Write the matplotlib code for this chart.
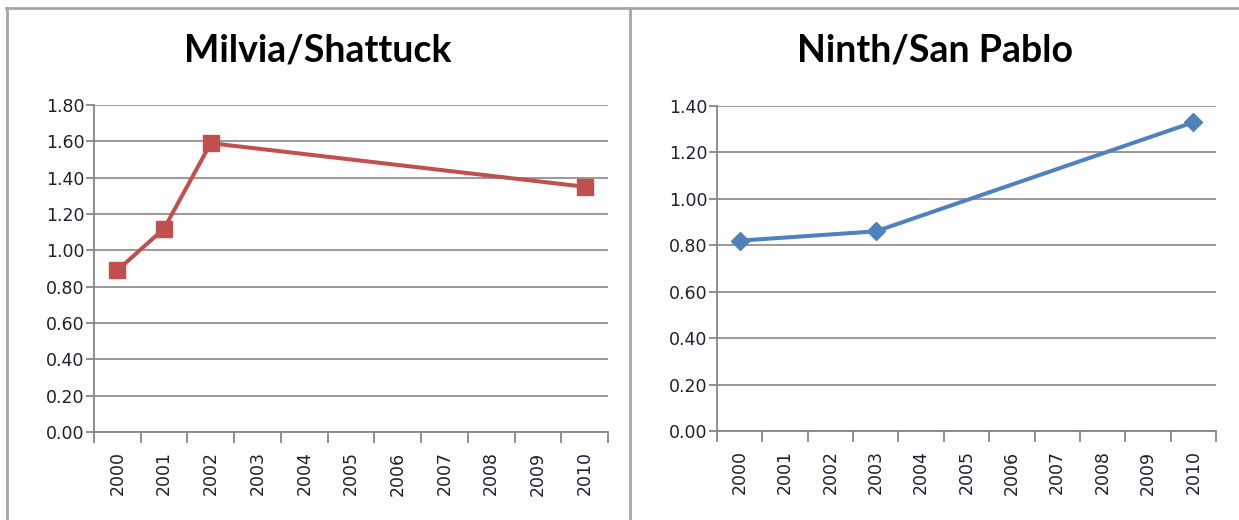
import matplotlib
matplotlib.use('Agg')

import numpy as np
import matplotlib.pyplot as plt
from matplotlib.lines import Line2D

# Datos de las dos estaciones
anios = list(range(2000, 2011))
etiquetas = [str(a) for a in anios]

milvia_anios = [2000, 2001, 2002, 2010]
milvia_valores = [0.89, 1.12, 1.59, 1.35]

ninth_anios = [2000, 2003, 2010]
ninth_valores = [0.82, 0.86, 1.33]

ROJO = '#C0504D'
AZUL = '#4F81BD'
GRIS = '#878787'
TEXTO = '#1f1f2f'

fig = plt.figure(figsize=(12.39, 5.2), dpi=100)
fig.patch.set_facecolor('white')


def dibujar(ax, x, y, color, marcador, msize, ymax, titulo, xc):
    ax.plot(x, y, color=color, lw=2.9, marker=marcador, markersize=msize,
            markeredgecolor=color, markerfacecolor=color, solid_joinstyle='round',
            zorder=3)
    ax.set_xlim(anios[0] - 0.5, anios[-1] + 0.5)
    ax.set_ylim(0, ymax)
    ax.set_yticks(np.arange(0, ymax + 0.001, 0.2))
    ax.set_yticklabels([f"{v:.2f}" for v in np.arange(0, ymax + 0.001, 0.2)])
    ax.set_xticks(anios)
    ax.set_xticklabels(etiquetas, rotation=90)
    ax.set_xticks(np.arange(anios[0] - 0.5, anios[-1] + 1), minor=True)
    ax.tick_params(axis='x', which='major', length=0, pad=14, labelsize=12.5,
                   labelcolor=TEXTO)
    ax.tick_params(axis='x', which='minor', length=8, width=1.3, color=GRIS,
                   direction='out')
    ax.tick_params(axis='y', length=6, width=1.3, color=GRIS, pad=1,
                   labelsize=12.5, labelcolor=TEXTO)
    ax.grid(axis='y', color=GRIS, lw=1.2)
    ax.set_axisbelow(True)
    for lado in ['top', 'right']:
        ax.spines[lado].set_visible(False)
    for lado in ['left', 'bottom']:
        ax.spines[lado].set_color(GRIS)
        ax.spines[lado].set_linewidth(1.3)
    fig.text(xc, 1 - 51 / 520, titulo, ha='center', va='center',
             fontsize=27, fontweight='bold', family='Lato', color='black')


ax1 = fig.add_axes([94 / 1239, 1 - 432 / 520, 514 / 1239, 327 / 520])
dibujar(ax1, milvia_anios, milvia_valores, ROJO, 's', 11, 1.8,
        'Milvia/Shattuck', 318 / 1239)

ax2 = fig.add_axes([717 / 1239, 1 - 431 / 520, 499 / 1239, 325 / 520])
dibujar(ax2, ninth_anios, ninth_valores, AZUL, 'D', 9, 1.4,
        'Ninth/San Pablo', 935 / 1239)

# Marcos de los gráficos
borde = '#a6a6a6'
fig.add_artist(Line2D([6 / 1239, 1], [1 - 8 / 520] * 2, color=borde, lw=2))
fig.add_artist(Line2D([7 / 1239] * 2, [0, 1 - 8 / 520], color=borde, lw=2))
fig.add_artist(Line2D([630 / 1239] * 2, [0, 1 - 8 / 520], color=borde, lw=2))

fig.savefig('out.png', dpi=100, facecolor='white')
plt.close(fig)
